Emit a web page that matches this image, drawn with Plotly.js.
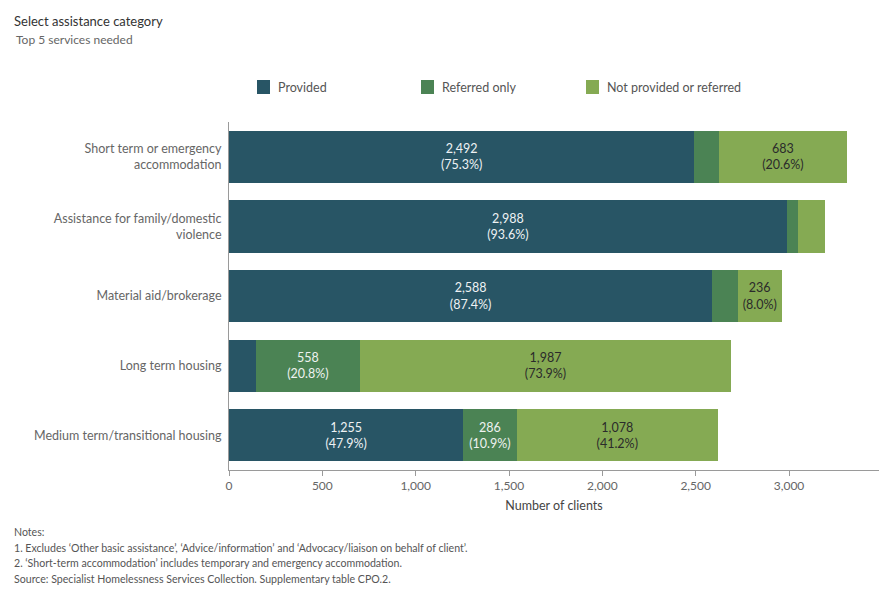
<!DOCTYPE html>
<html>
<head>
<meta charset="utf-8">
<script src="https://cdn.plot.ly/plotly-3.0.1.min.js"></script>
<style>html,body{margin:0;padding:0;background:#fff;}#chart{width:890px;height:600px;}</style>
</head>
<body>
<div id="chart"></div>
<script>
// Categories (top to bottom)
const categories = [
  "Short term or emergency<br>accommodation",
  "Assistance for family/domestic<br>violence",
  "Material aid/brokerage",
  "Long term housing",
  "Medium term/transitional housing"
];
// Series names
const seriesNames = ["Provided", "Referred only", "Not provided or referred"];
// Number of clients per outcome
const provided       = [2492, 2988, 2588, 144, 1255];
const referredOnly   = [134, 60, 137, 558, 286];
const notProvided    = [683, 144, 236, 1987, 1078];
// Percentage labels shown in bars (null = no label shown)
const providedPct    = ["75.3%", "93.6%", "87.4%", null, "47.9%"];
const referredPct    = [null, null, null, "20.8%", "10.9%"];
const notProvidedPct = ["20.6%", null, "8.0%", "73.9%", "41.2%"];
const xTicks = [0, 500, 1000, 1500, 2000, 2500, 3000];
const xTickLabels = ["0", "500", "1,000", "1,500", "2,000", "2,500", "3,000"];

const notes = [
  "Notes:",
  "1. Excludes \u2018Other basic assistance\u2019, \u2018Advice/information\u2019 and \u2018Advocacy/liaison on behalf of client\u2019.",
  "2. \u2018Short-term accommodation\u2019 includes temporary and emergency accommodation.",
  "Source: Specialist Homelessness Services Collection. Supplementary table CPO.2."
];

const COLORS = ["#285565", "#4b8354", "#85aa53"];
const TXT = ["#eef2f4", "#eef2f0", "#2b2b2b"];
const FONT = "Lato, 'Noto Sans', sans-serif";

// pixel -> paper helpers (plot area: x 229..879, y 122..470)
const PL = 229, PW = 650, PT = 122, PH = 348;
const px = v => (v - PL) / PW;
const py = v => (PT + PH - v) / PH;

function fmt(n){ return n.toLocaleString('en-US'); }
function labels(vals, pcts){
  return vals.map((v,i)=> pcts[i] ? fmt(v) + "<br>(" + pcts[i] + ")" : "");
}

function mk(k, vals, pcts){
  return {
    type: 'bar', orientation: 'h', name: seriesNames[k],
    y: categories, x: vals,
    marker: {color: COLORS[k]},
    text: labels(vals, pcts),
    textposition: 'inside', insidetextanchor: 'middle', textangle: 0,
    constraintext: 'none',
    insidetextfont: {family: FONT, size: 12.5, color: TXT[k]},
    hovertemplate: '%{y}: %{x:,}<extra>' + seriesNames[k] + '</extra>'
  };
}

const data = [
  mk(0, provided, providedPct),
  mk(1, referredOnly, referredPct),
  mk(2, notProvided, notProvidedPct)
];

// legend drawn as shapes + annotations
const legendX = [257, 421, 586];
const legendShapes = seriesNames.map((n,k)=>({
  type: 'rect', xref: 'paper', yref: 'paper',
  x0: px(legendX[k]), x1: px(legendX[k] + 13), y0: py(94), y1: py(80),
  fillcolor: COLORS[k], line: {width: 0}
}));
const legendAnn = seriesNames.map((n,k)=>({
  text: n, xref: 'paper', yref: 'paper', x: px(legendX[k] + 19), y: py(87.5),
  xanchor: 'left', yanchor: 'middle', showarrow: false,
  font: {family: FONT, size: 12.5, color: '#555'}
}));

const layout = {
  width: 890, height: 600,
  margin: {l: PL, r: 890 - PL - PW, t: PT, b: 600 - PT - PH},
  paper_bgcolor: '#fff', plot_bgcolor: '#fff',
  barmode: 'stack', bargap: 0.25,
  font: {family: FONT, size: 12, color: '#666'},
  showlegend: false,
  xaxis: {
    range: [0, 3482], tickvals: xTicks, ticktext: xTickLabels,
    showgrid: false, zeroline: false,
    showline: true, linecolor: '#9a9a9a', linewidth: 1,
    ticks: 'outside', ticklen: 5, tickcolor: '#9a9a9a',
    tickfont: {family: FONT, size: 12, color: '#666'},
    title: {text: 'Number of clients', font: {family: FONT, size: 12.5, color: '#444'}, standoff: 8},
    fixedrange: true
  },
  yaxis: {
    categoryorder: 'array', categoryarray: categories.slice().reverse(),
    showgrid: false, zeroline: false,
    showline: true, linecolor: '#9a9a9a', linewidth: 1,
    ticks: '', ticklabelstandoff: 4,
    tickfont: {family: FONT, size: 12.5, color: '#666'},
    fixedrange: true
  },
  shapes: legendShapes,
  annotations: [
    {text: "Select assistance category", xref: 'paper', yref: 'paper', x: px(12), y: py(21),
     xanchor: 'left', yanchor: 'middle', showarrow: false, font: {family: FONT, size: 13, color: '#333'}},
    {text: "Top 5 services needed", xref: 'paper', yref: 'paper', x: px(14), y: py(39),
     xanchor: 'left', yanchor: 'middle', showarrow: false, font: {family: FONT, size: 12, color: '#666'}}
  ].concat(legendAnn).concat(notes.map((t,i)=>({
    text: t, xref: 'paper', yref: 'paper', x: px(12), y: py([531.5,547.5,563,578.5][i]),
    xanchor: 'left', yanchor: 'middle', showarrow: false, align: 'left',
    font: {family: FONT, size: 10.6, color: '#555'}
  })))
};

Plotly.newPlot('chart', data, layout, {displayModeBar: false, responsive: false});
</script>
</body>
</html>
